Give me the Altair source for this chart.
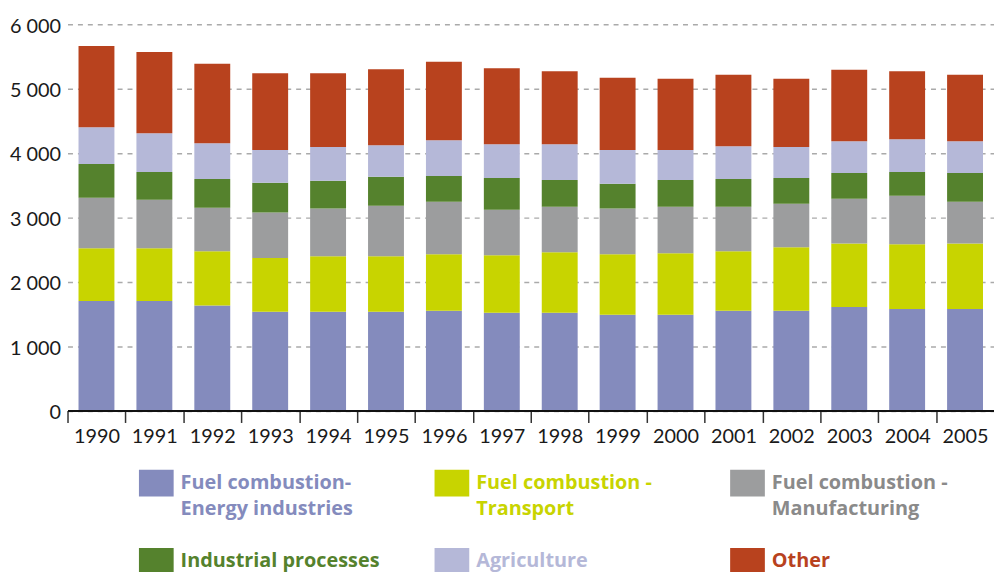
import altair as alt
import pandas as pd

years = [str(y) for y in range(1990, 2006)]
categories = [
    "Fuel combustion-Energy industries",
    "Fuel combustion - Transport",
    "Fuel combustion - Manufacturing",
    "Industrial processes",
    "Agriculture",
    "Other",
]
legend_lines = [
    ["Fuel combustion-", "Energy industries"],
    ["Fuel combustion -", "Transport"],
    ["Fuel combustion -", "Manufacturing"],
    ["Industrial processes"],
    ["Agriculture"],
    ["Other"],
]
colors = ["#848bbd", "#c8d400", "#9c9d9e", "#55822d", "#b5b8d8", "#b8421e"]
label_colors = ["#848bbd", "#c8d400", "#8a8a8a", "#55822d", "#b5b8d8", "#b8421e"]

energy = [1703, 1703, 1630, 1533, 1533, 1533, 1549, 1518, 1518, 1487, 1487, 1549, 1549, 1610, 1579, 1579]
transport = [816, 816, 843, 837, 863, 863, 878, 893, 940, 940, 955, 924, 986, 986, 1002, 1017]
manufacturing = [786, 755, 678, 704, 740, 786, 816, 709, 708, 709, 724, 693, 678, 694, 755, 647]
industrial = [524, 432, 446, 462, 431, 447, 401, 493, 416, 385, 416, 431, 400, 400, 370, 447]
agriculture = [570, 601, 555, 509, 524, 492, 555, 524, 555, 524, 463, 509, 478, 493, 508, 493]
other = [1264, 1263, 1233, 1194, 1148, 1179, 1217, 1179, 1133, 1124, 1109, 1110, 1063, 1110, 1056, 1033]
series = [energy, transport, manufacturing, industrial, agriculture, other]
y_ticks = [0, 1000, 2000, 3000, 4000, 5000, 6000]

rows = []
for ci, (cat, vals) in enumerate(zip(categories, series)):
    for yr, v in zip(years, vals):
        rows.append({"year": yr, "category": cat, "value": v, "order": ci})
df = pd.DataFrame(rows)


def arr(lines):
    return "[" + ", ".join("'" + s + "'" for s in lines) + "]"


label_expr = ""
for cat, lines in zip(categories, legend_lines):
    label_expr += f"datum.label == '{cat}' ? {arr(lines)} : "
label_expr += "datum.label"

fill_expr = ""
for cat, c in zip(categories, label_colors):
    fill_expr += f"datum.value == '{cat}' ? '{c}' : "
fill_expr += "'#000000'"

WIDTH = 934
STEP = WIDTH / len(years)
P_INNER = 0.38
HALF_GAP = P_INNER * STEP / 2

legend = alt.Legend(
    title=None,
    orient="none",
    legendX=72,
    legendY=445,
    direction="horizontal",
    columns=3,
    gridAlign="all",
    columnPadding=55,
    rowPadding=25,
    padding=0,
    offset=0,
    symbolType="M-1,-0.77H1V0.77H-1Z",
    symbolSize=1225,
    symbolStrokeWidth=0,
    symbolOpacity=1,
    labelFont="Open Sans",
    labelFontSize=20,
    labelFontWeight="bold",
    labelOffset=7,
    labelLimit=400,
    labelExpr=label_expr,
    labelColor={"expr": fill_expr},
)

chart = (
    alt.Chart(df)
    .mark_bar()
    .encode(
        x=alt.X(
            "year:N",
            sort=years,
            scale=alt.Scale(paddingInner=P_INNER, paddingOuter=P_INNER / 2),
            axis=alt.Axis(
                title=None,
                labelAngle=0,
                bandPosition=0,
                tickOffset=-HALF_GAP,
                labelOffset=HALF_GAP,
                tickSize=12,
                tickColor="#333333",
                tickWidth=1.5,
                domainColor="#111111",
                domainWidth=2,
                labelFont="Lato",
                labelFontSize=20,
                labelColor="#1a1a1a",
                labelPadding=4,
                grid=False,
                zindex=1,
            ),
        ),
        y=alt.Y(
            "value:Q",
            stack="zero",
            scale=alt.Scale(domain=[0, 6000], nice=False),
            axis=alt.Axis(
                title=None,
                values=y_ticks,
                labelExpr="replace(format(datum.value, ','), ',', ' ')",
                grid=True,
                gridDash=[5, 5],
                gridColor="#aaaaaa",
                gridWidth=1.5,
                domain=False,
                ticks=False,
                labelPadding=7,
                labelFont="Lato",
                labelFontSize=20,
                labelColor="#1a1a1a",
                labelOffset=2,
            ),
        ),
        color=alt.Color("category:N", scale=alt.Scale(domain=categories, range=colors), legend=legend),
        order=alt.Order("order:Q", sort="ascending"),
    )
    .properties(
        width=WIDTH,
        height=389.5,
        padding={"left": 60, "top": 14, "right": 0, "bottom": 170},
        autosize=alt.AutoSizeParams(type="none"),
    )
    .configure(style={"guide-label": {"lineHeight": 26}})
    .configure_view(stroke=None)
)

chart.save("out.html", embed_options={"renderer": "svg", "actions": False})
